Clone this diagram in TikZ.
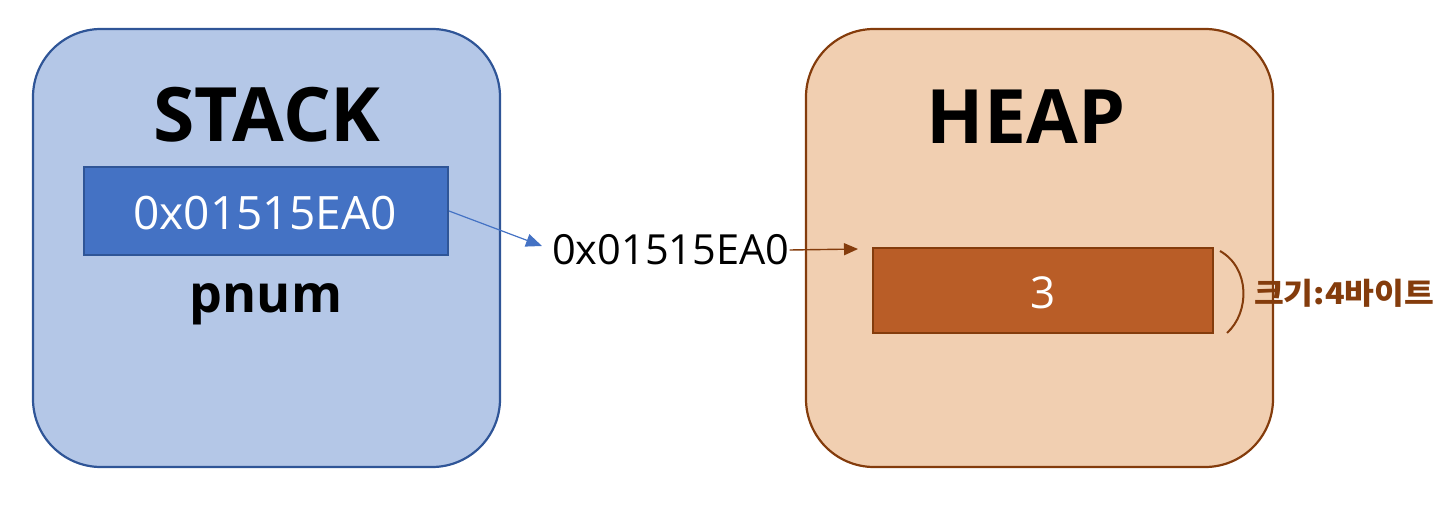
\documentclass[tikz,border=0pt]{standalone}
\usepackage{fontspec}
\usepackage{graphicx}
\setmainfont{Open Sans}
\newfontfamily\kofont{Noto Sans CJK KR}
\usetikzlibrary{arrows.meta}
\definecolor{stackfill}{HTML}{B4C7E7}
\definecolor{stackline}{HTML}{2F5597}
\definecolor{cellblue}{HTML}{4472C4}
\definecolor{heapfill}{HTML}{F1CFB1}
\definecolor{heapline}{HTML}{843C0C}
\definecolor{cellbrown}{HTML}{B95D27}
\tikzset{
  region/.style={rounded corners=68pt, line width=2.2pt},
  cell/.style={line width=2pt},
  title/.style={anchor=base, inner sep=0pt, font=\fontsize{75}{77}\selectfont\bfseries},
  celltext/.style={anchor=base, inner sep=0pt, text=white},
}
\begin{document}
\begin{tikzpicture}[x=1pt,y=-1pt]
\useasboundingbox (0,0) rectangle (1438,516);
% regions
\draw[region, draw=stackline, fill=stackfill] (33,29) rectangle (500,467);
\draw[region, draw=heapline, fill=heapfill] (806,29) rectangle (1273,467);
% titles
\node[title] (stacktitle) at (267,142) {STACK};
\node[title] (heaptitle) at (1026,144) {HEAP};
% stack cell
\node[cell, draw=stackline, fill=cellblue, minimum width=364pt, minimum height=88pt, inner sep=0pt] (pcell) at (266,211) {};
\node[celltext, font=\fontsize{46}{48}\selectfont] (pval) at (265,229) {0x01515EA0};
\node[anchor=base, inner sep=0pt, font=\fontsize{52}{54}\selectfont\bfseries] (pnum) at (266,312) {pnum};
% heap cell
\node[cell, draw=heapline, fill=cellbrown, minimum width=340pt, minimum height=85pt, inner sep=0pt] (hcell) at (1043,290.5) {};
\node[celltext, font=\fontsize{44}{46}\selectfont] (hval) at (1043,308) {3};
% middle address label
\node[anchor=west, inner sep=0pt, font=\fontsize{41.5}{43}\selectfont] (addr) at (552,250) {0x01515EA0};
\coordinate (heaptip) at (858,249);
% arrows
\draw[cellblue, line width=1.2pt, -{Triangle[length=16pt,width=13pt]}] (pcell.east) -- ([xshift=-10pt,yshift=4pt]addr.west);
\draw[heapline, line width=1.4pt, -{Triangle[length=14pt,width=12pt]}] (addr.east) -- (heaptip);
% brace
\coordinate (bt) at (1220,251);
\coordinate (bb) at (1227,333);
\draw[heapline, line width=2pt] (bt) .. controls (1250,268) and (1250,312) .. (bb);
\node[anchor=west, inner sep=0pt, text=heapline, font=\kofont\fontsize{30}{32}\selectfont\bfseries] (size) at (1254,293) {\resizebox{180pt}{\height}{크기:4바이트}};
\end{tikzpicture}
\end{document}
